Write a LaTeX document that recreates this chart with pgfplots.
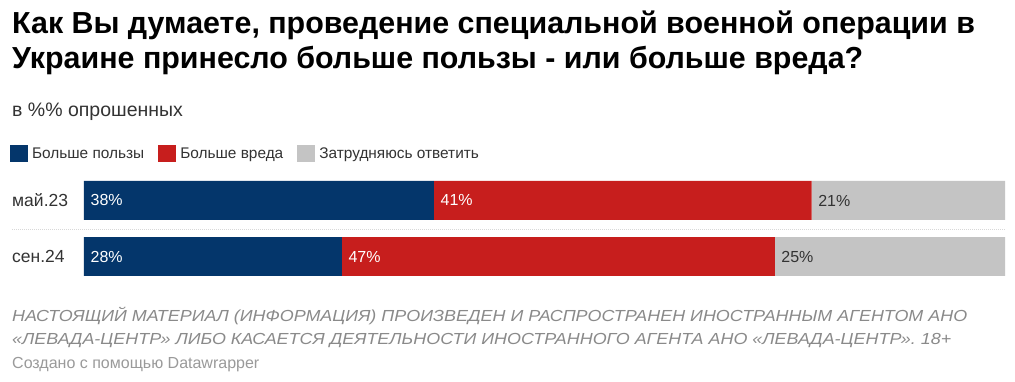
\documentclass[border=0pt]{standalone}
\usepackage{fontspec}
\setmainfont{Liberation Sans}
\newfontfamily\footfont[FakeStretch=1.12]{Liberation Sans}
\usepackage{pgfplots}
\pgfplotsset{compat=1.18}
\definecolor{cBlue}{HTML}{04366B}
\definecolor{cRed}{HTML}{C71E1D}
\definecolor{cGray}{HTML}{C4C4C4}
\definecolor{cTxt}{HTML}{333333}
\definecolor{cFoot}{HTML}{8A8A8A}
\definecolor{cFoot2}{HTML}{9A9A9A}
\definecolor{cDot}{HTML}{D8D8D8}
\begin{document}
\begin{tikzpicture}[x=1pt,y=1pt]
\useasboundingbox[fill=white] (0,0) rectangle (1015,382);
% title
\node[anchor=base west, inner sep=0pt, font=\fontsize{30.4}{35}\selectfont\bfseries] at (12,348) {Как Вы думаете, проведение специальной военной операции в};
\node[anchor=base west, inner sep=0pt, font=\fontsize{30.4}{35}\selectfont\bfseries] at (12,313) {Украине принесло больше пользы - или больше вреда?};
\node[anchor=base west, inner sep=0pt, font=\fontsize{19.5}{22}\selectfont, text=cTxt] at (12,265) {в \%\% опрошенных};
% separator
\draw[cDot, line width=1pt, dash pattern=on 1pt off 1pt] (12,152.5) -- (1005,152.5);
\begin{axis}[
  at={(84pt,106pt)}, anchor=south west,
  scale only axis, width=921pt, height=95pt,
  xmin=0, xmax=100, ymin=-0.348, ymax=1.348,
  y dir=reverse,
  xbar stacked, bar width=39pt,
  axis line style={draw=none},
  xtick=\empty,
  ytick={0,1}, yticklabels={май.23, сен.24},
  major tick length=0pt, tick style={draw=none},
  yticklabel style={anchor=west, xshift=-72pt, inner sep=0pt, font=\fontsize{17.5}{20}\selectfont, text=cTxt},
  legend columns=3,
  legend style={at={(-0.0803,1.379)}, anchor=north west, draw=none, fill=none,
    font=\fontsize{15.4}{18}\selectfont, text=cTxt,
    inner sep=0pt, outer sep=0pt,
    nodes={inner xsep=4pt, inner ysep=0pt},
    /tikz/every even column/.append style={column sep=10pt}},
  legend image code/.code={\fill[#1] (0pt,-8.5pt) rectangle (18pt,8.5pt);},
  legend cell align=left,
]
\addplot[fill=cBlue, draw=none] coordinates {(38,0) (28,1)};
\addplot[fill=cRed, draw=none] coordinates {(41,0) (47,1)};
\addplot[fill=cGray, draw=none] coordinates {(21,0) (25,1)};
\legend{Больше пользы, Больше вреда, Затрудняюсь ответить}
\end{axis}
\begin{axis}[
  at={(84pt,106pt)}, anchor=south west,
  scale only axis, width=921pt, height=95pt,
  xmin=0, xmax=100, ymin=-0.348, ymax=1.348,
  y dir=reverse, axis lines=none, ticks=none,
  nodes near coords, point meta=explicit symbolic,
  every node near coord/.append style={anchor=west, xshift=6.5pt, inner sep=0pt, font=\fontsize{16}{19}\selectfont},
]
\addplot[draw=none, mark=none, nodes near coords style={text=white}] coordinates {(0,0) [38\%] (38,0) [41\%] (0,1) [28\%] (28,1) [47\%]};
\addplot[draw=none, mark=none, nodes near coords style={text=cTxt}] coordinates {(79,0) [21\%] (75,1) [25\%]};
\end{axis}
% footer
\node[anchor=base west, inner sep=0pt, font=\fontsize{16}{18}\selectfont\footfont\itshape, text=cFoot] at (12,60) {НАСТОЯЩИЙ МАТЕРИАЛ (ИНФОРМАЦИЯ) ПРОИЗВЕДЕН И РАСПРОСТРАНЕН ИНОСТРАННЫМ АГЕНТОМ АНО};
\node[anchor=base west, inner sep=0pt, font=\fontsize{16}{18}\selectfont\footfont\itshape, text=cFoot] at (12,37) {«ЛЕВАДА-ЦЕНТР» ЛИБО КАСАЕТСЯ ДЕЯТЕЛЬНОСТИ ИНОСТРАННОГО АГЕНТА АНО «ЛЕВАДА-ЦЕНТР». 18+};
\node[anchor=base west, inner sep=0pt, font=\fontsize{16}{19}\selectfont, text=cFoot2] at (12,13) {Создано с помощью Datawrapper};
\end{tikzpicture}
\end{document}
